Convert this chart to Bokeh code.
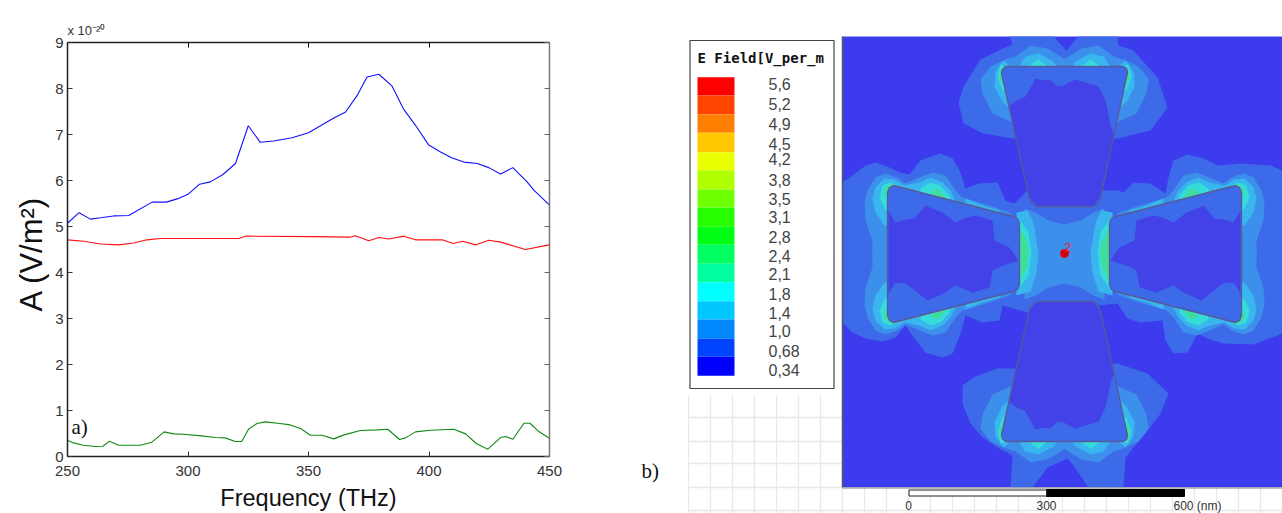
from bokeh.plotting import figure
from bokeh.layouts import row
from bokeh.embed import file_html
from bokeh.resources import INLINE
from bokeh.models import Range1d, LinearAxis, Label, FixedTicker
from bokeh.core.properties import value

# ---------- panel a) data ----------
blue_f = [250,254.8,259.5,263.7,269.2,275.4,285.1,291,295.5,300,304.8,309.3,314.5,319.7,325,330,335.5,343.2,350,355,360.5,365.4,370.2,374.3,379.2,384.7,389.6,394.4,399.9,404.8,409.6,414.5,420,424.8,429.7,434.8,440.7,443.5,449.9]
blue_a = [5.07,5.30,5.16,5.19,5.23,5.24,5.53,5.53,5.60,5.70,5.92,5.97,6.13,6.37,7.19,6.83,6.86,6.93,7.04,7.19,7.36,7.49,7.85,8.25,8.31,8.05,7.54,7.20,6.77,6.62,6.49,6.40,6.37,6.28,6.14,6.28,5.97,5.79,5.47]
red_f = [250,256.8,263.7,271.3,277.5,283,288.6,321,323.9,352.2,367.4,369.5,375,379.2,383.3,389.6,394.4,405.5,410,414,419.3,424.8,429.7,440,449.9]
red_a = [4.71,4.68,4.62,4.60,4.64,4.71,4.74,4.74,4.79,4.78,4.77,4.80,4.69,4.76,4.73,4.79,4.71,4.71,4.63,4.68,4.60,4.70,4.66,4.50,4.60]
green_f = [250,252.5,256.6,261.5,264.7,267.4,271.2,280.2,285,290.1,294,298.1,305.7,311.3,315.4,319.6,322.3,325.1,328.6,332,338.2,342.4,346.7,350.8,355.7,360.5,364.7,371.6,378.5,382.9,387.8,390.3,394.4,400.6,410.3,415.2,419.6,424.4,429.7,431.8,434.8,439.4,441.9,445.6,449.9]
green_a = [0.354,0.296,0.246,0.217,0.224,0.333,0.246,0.246,0.311,0.535,0.492,0.484,0.448,0.412,0.405,0.325,0.325,0.593,0.716,0.752,0.716,0.687,0.607,0.463,0.463,0.383,0.47,0.564,0.578,0.593,0.369,0.405,0.535,0.571,0.593,0.492,0.282,0.159,0.412,0.434,0.376,0.723,0.723,0.542,0.398]
x_ticks = [250,300,350,400,450]
y_ticks = [0,1,2,3,4,5,6,7,8,9]

# ---------- panel b) legend data ----------
legend_labels = ["5,6","5,2","4,9","4,5","4,2","3,8","3,5","3,1","2,8","2,4","2,1","1,8","1,4","1,0","0,68","0,34"]
legend_label_y = [83,103,123,143,158,179,198,216,236,255,273,293,312,330,350,369]
legend_edges = [76.7,95,114,132.3,151.7,169.7,189,207,226.3,244.3,263.3,281.7,300.7,319,338.3,356.3,375.3]
legend_colors = ["#ff0000","#ff4500","#ff8000","#ffc800","#eaff00","#b0ff00","#70ff00","#28ff00","#00ff14","#00ff60","#00ffa0","#00ffff","#00c8ff","#0088ff","#0044ff","#0000ff"]

# ---------- panel b) field contours ----------
C_BG, C_IN, C1, C2, C3, C4, C5 = "#3c3cee", "#4242e8", "#3d6ae8", "#3c90ec", "#3ab6ee", "#36dcd8", "#40dc98"

l1_main = [(842,182),(855,173),(865,165),(875,162),(889,167),(899,172),(909,174),(920,160),(939,153),(952,158),(959,170),(965,188),(979,183),(997,182),(1005,200),(1014,203),(1027,190),(1118,190),(1123,192),(1133,182),(1150,183),(1165,193),(1168,177),(1173,160),(1187,154),(1203,158),(1217,165),(1240,163),(1270,165),(1282,170),
           (1282,333),(1253,344),(1223,343),(1207,338),(1197,333),(1187,352),(1173,353),(1165,340),(1162,320),(1140,322),(1127,318),(1117,303),(1027,312),(1002,305),(999,320),(982,322),(965,315),(960,333),(952,353),(942,357),(925,352),(914,338),(905,325),(895,337),(882,341),(865,338),(852,332),(842,322)]
l1_top = [(1009,36),(1053,36),(1066,50),(1078,36),(1117,36),(1118,45),(1133,50),(1157,77),(1167,107),(1150,130),(1117,138),(1013,138),(983,133),(963,123),(958,102),(963,86),(980,59),(1000,49),(1012,44)]
l1_bottom = [(962,385),(973,377),(997,368),(1013,368),(1117,363),(1147,373),(1168,393),(1160,413),(1145,433),(1133,447),(1125,457),(1123,487),(1088,487),(1073,465),(1067,458),(1047,467),(1032,487),(1010,487),(1012,455),(997,447),(982,437),(970,423),(962,403)]

l2_top = [(1065,59),(1047,48),(1030,45),(1015,56),(1005,59),(990,66),(980,79),(982,93),(992,113),(1010,121),(1020,125),(1065,125)]
l3_top_corner = [(1003,60),(995,71),(994,86),(1002,101),(1007,106),(1020,100),(1010,66)]
l3_top_blob = [(1017,68),(1025,56),(1038,53),(1053,61),(1058,68)]
l4_top_corner = [(1000,64),(997,76),(1002,90),(1010,90),(1006,66)]
l4_top_blob = [(1025,68),(1038,59),(1050,68)]
l5_top_corner = [(1000,68),(999,78),(1003,84),(1006,70)]

l2_left = [(872,258),(872,240),(865,220),(864,203),(867,190),(875,177),(885,173),(897,177),(905,183),(919,177),(932,172),(945,175),(955,190),(962,197),(989,205),(1009,212),(1020,222),(1020,258)]
l3_left_a = [(884,225),(875,212),(872,198),(875,187),(884,178),(894,179),(904,185),(919,182),(930,177),(942,182),(950,190),(955,200),(900,225)]
l3_left_b = [(965,198),(982,205),(999,210),(1000,215),(965,205)]
l4_left_a = [(885,210),(879,197),(882,185),(890,182),(897,185),(900,200)]
l4_left_b = [(920,188),(930,182),(940,185),(949,195),(949,205),(920,196)]
l5_left_a = [(884,195),(885,188),(892,183),(895,185),(893,198)]
l5_left_b = [(930,192),(937,188),(945,197),(945,200)]

l2_center = [(1024,208),(1035,212),(1048,220),(1064,224),(1080,220),(1093,212),(1104,208),(1104,299),(1093,295),(1080,287),(1064,283),(1048,287),(1035,295),(1024,299)]
l3_gap = [(1016,212),(1027,210),(1033,222),(1038,253),(1036,272),(1030,291),(1016,295)]
l4_gap = [(1018,218),(1028,232),(1031,253),(1028,275),(1018,289)]
l5_gap = [(1019,228),(1026,240),(1028,253),(1026,268),(1019,280)]

dark_top = [(1009,105),(1018,99),(1024,97),(1028,91),(1035,78),(1042,80),(1050,79),(1056,85),(1062,86),(1068,82),(1075,79),(1085,82),(1098,86),(1105,100),(1110,125),(1114,135),(1099,197),(1093,206),(1037,206),(1029,198),(1014,135)]
dark_left = [(888,210),(895,222),(905,219),(914,218),(925,205),(934,209),(942,212),(955,222),(966,217),(975,215),(992,220),(994,240),(1009,247),(1018,260),(1000,266),(992,270),(989,287),(972,292),(955,285),(945,292),(936,296),(927,300),(912,288),(904,282),(894,283),(888,293)]

shape_top = [(1001,73),(1002,69),(1005,66),(1123,66),(1126,68),(1127,72),(1100,197),(1097,203),(1093,206),(1037,206),(1032,203),(1029,198)]
shape_left = [(887,192),(889,187),(893,185),(1013,216),(1017,218),(1019,222),(1019,285),(1017,289),(1013,291),(893,322),(889,320),(887,315)]

scale_ticks = ["0","300","600 (nm)"]

# ---------- panel a) ----------
p1 = figure(width=632, height=513, output_backend="svg", toolbar_location=None,
            title="x 10⁻²⁰",
            x_range=Range1d(250,450), y_range=Range1d(0,9), frame_align=False,
            min_border_left=67, min_border_right=83, min_border_top=42, min_border_bottom=56,
            outline_line_color=None, background_fill_color="white", border_fill_color="white")
p1.title.text_font = "Liberation Sans"
p1.title.text_font_size = "13px"
p1.title.text_font_style = "normal"
p1.title.text_color = "#333333"
p1.title.align = "left"
p1.grid.visible = False
p1.line(blue_f, blue_a, line_color="#1010ff", line_width=1.1)
p1.line(red_f, red_a, line_color="#ff1010", line_width=1.1)
p1.line(green_f, green_a, line_color="#108a10", line_width=1.1)

for ax, ticks, lab in ((p1.xaxis[0], x_ticks, "Frequency (THz)"), (p1.yaxis[0], y_ticks, "A  (V/m²)")):
    ax.ticker = FixedTicker(ticks=ticks)
    ax.axis_label = lab
    ax.axis_label_text_font = "Liberation Sans"
    ax.axis_label_text_font_style = "normal"
    ax.axis_label_text_color = "#111111"
    ax.major_label_text_font = "Liberation Sans"
    ax.major_label_text_font_size = "15px"
    ax.major_label_text_color = "#333333"
    ax.major_tick_in = 5
    ax.major_tick_out = 0
    ax.minor_tick_line_color = None
    ax.axis_line_color = "#222222"
    ax.axis_line_width = 1.5
    ax.major_tick_line_color = "#333333"
p1.xaxis[0].axis_label_text_font_size = "23.5px"
p1.yaxis[0].axis_label_text_font_size = "31px"
p1.xaxis[0].major_label_standoff = 9
p1.yaxis[0].major_label_standoff = 4
p1.xaxis[0].axis_label_standoff = 6
p1.yaxis[0].axis_label_standoff = 3

top_ax = LinearAxis(ticker=FixedTicker(ticks=x_ticks), major_label_text_font_size="0px",
                    major_tick_in=5, major_tick_out=0, minor_tick_line_color=None,
                    axis_line_color="#222222", axis_line_width=1.5)
right_ax = LinearAxis(ticker=FixedTicker(ticks=y_ticks), major_label_text_font_size="0px",
                      major_tick_in=5, major_tick_out=0, minor_tick_line_color=None,
                      axis_line_color="#777777", major_tick_line_color="#666666", axis_line_width=1.5)
top_ax.major_label_overrides = {t: "" for t in x_ticks}
right_ax.major_label_overrides = {t: "" for t in y_ticks}
p1.add_layout(top_ax, "above")
p1.add_layout(right_ax, "right")

p1.add_layout(Label(x=4, y=30, x_units="screen", y_units="screen", text="a)", text_font="Liberation Serif",
                    text_font_size="21px", text_color="#111111", text_baseline="middle"))

# ---------- panel b) ----------
p2 = figure(width=650, height=513, output_backend="svg", toolbar_location=None, frame_align=False,
            x_range=Range1d(632,1282), y_range=Range1d(513,0), x_axis_type=None, y_axis_type=None,
            min_border=0, outline_line_color=None, background_fill_color="white", border_fill_color="white")
p2.grid.visible = False

# background paper grid
gx = [688 + 22.0 * i for i in range(28)]
gy = [417, 441, 463, 487, 510]
p2.segment(x0=gx[:8], y0=[395]*8, x1=gx[:8], y1=[513]*8, line_color="#e8e8e8", line_width=1.3)
p2.segment(x0=gx[8:], y0=[487]*len(gx[8:]), x1=gx[8:], y1=[513]*len(gx[8:]), line_color="#e8e8e8", line_width=1.3)
p2.segment(x0=[688]*5, y0=gy, x1=[1282]*5, y1=gy, line_color="#e8e8e8", line_width=1.3)

# map
p2.quad(left=[842], right=[1282], top=[36], bottom=[487], fill_color=C_BG, line_color=None)

def mx(pts): return [(2128 - x, y) for x, y in pts]
def my(pts): return [(x, 507 - y) for x, y in pts]
def four(pts): return [pts, mx(pts), my(pts), mx(my(pts))]
def draw(polys, color):
    p2.patches(xs=[[a for a, _ in q] for q in polys], ys=[[b for _, b in q] for q in polys],
               fill_color=color, line_color=None)

draw([l1_main, l1_top, l1_bottom], C1)
draw(four(l2_top) + four(l2_left) + [l2_center], C2)
draw(four(l3_top_corner) + four(l3_top_blob) + four(l3_left_a) + four(l3_left_b) + [l3_gap, mx(l3_gap)], C3)
draw(four(l4_top_corner) + four(l4_top_blob) + four(l4_left_a) + four(l4_left_b) + [l4_gap, mx(l4_gap)], C4)
draw(four(l5_top_corner) + four(l5_left_a) + four(l5_left_b) + [l5_gap, mx(l5_gap)], C5)

shapes = [shape_top, my(shape_top), shape_left, mx(shape_left)]
draw(shapes, C1)
draw([dark_top, my(dark_top), dark_left, mx(dark_left)], C_IN)
p2.patches(xs=[[a for a, _ in q] for q in shapes], ys=[[b for _, b in q] for q in shapes],
           fill_color=None, line_color="#565a98", line_width=1.3)

# map edge and probe marker
p2.segment(x0=[842], y0=[36], x1=[842], y1=[487], line_color="#555566", line_width=1.5)
p2.segment(x0=[842], y0=[487.5], x1=[1282], y1=[487.5], line_color="#aaaaaa", line_width=1.5)
p2.scatter(x=[1064], y=[253], size=8, fill_color="#c80018", line_color="#ff0000", line_width=1)
p2.text(x=[1067], y=[247], text=["2"], text_color="#ff1020", text_font=value("Liberation Sans"),
        text_font_size="13px", text_align="center", text_baseline="middle")

# scale bar
p2.quad(left=[1046], right=[1184], top=[489], bottom=[496], fill_color="black", line_color="black", line_width=1)
p2.quad(left=[908.5], right=[1046], top=[489.5], bottom=[495.5], fill_color="white", line_color="#222222", line_width=1)
p2.text(x=[908, 1046], y=[505, 505], text=scale_ticks[:2], text_color="#333333",
        text_font=value("Liberation Sans"), text_font_size="12px", text_align="center", text_baseline="middle")
p2.text(x=[1173], y=[505], text=scale_ticks[2:], text_color="#333333",
        text_font=value("Liberation Sans"), text_font_size="12px", text_align="left", text_baseline="middle")

# legend
p2.quad(left=[689.5], right=[833.5], top=[40], bottom=[388], fill_color="white", line_color="#444444", line_width=1.2)
p2.text(x=[697], y=[57], text=["E Field[V_per_m"], text_color="#111111", text_font=value("DejaVu Sans Mono"),
        text_font_style="bold", text_font_size="14px", text_baseline="middle")
p2.quad(left=[697]*16, right=[734]*16, top=legend_edges[:-1], bottom=legend_edges[1:], fill_color=legend_colors, line_color=None)
p2.text(x=[768]*16, y=legend_label_y, text=legend_labels, text_color="#444444", text_font=value("Liberation Sans"),
        text_font_size="16px", text_baseline="middle")
p2.text(x=[641], y=[470], text=["b)"], text_color="#111111", text_font=value("Liberation Serif"),
        text_font_size="21px", text_baseline="middle")

page = row(p1, p2, spacing=0)
open("out.html", "w").write(file_html(page, INLINE))
